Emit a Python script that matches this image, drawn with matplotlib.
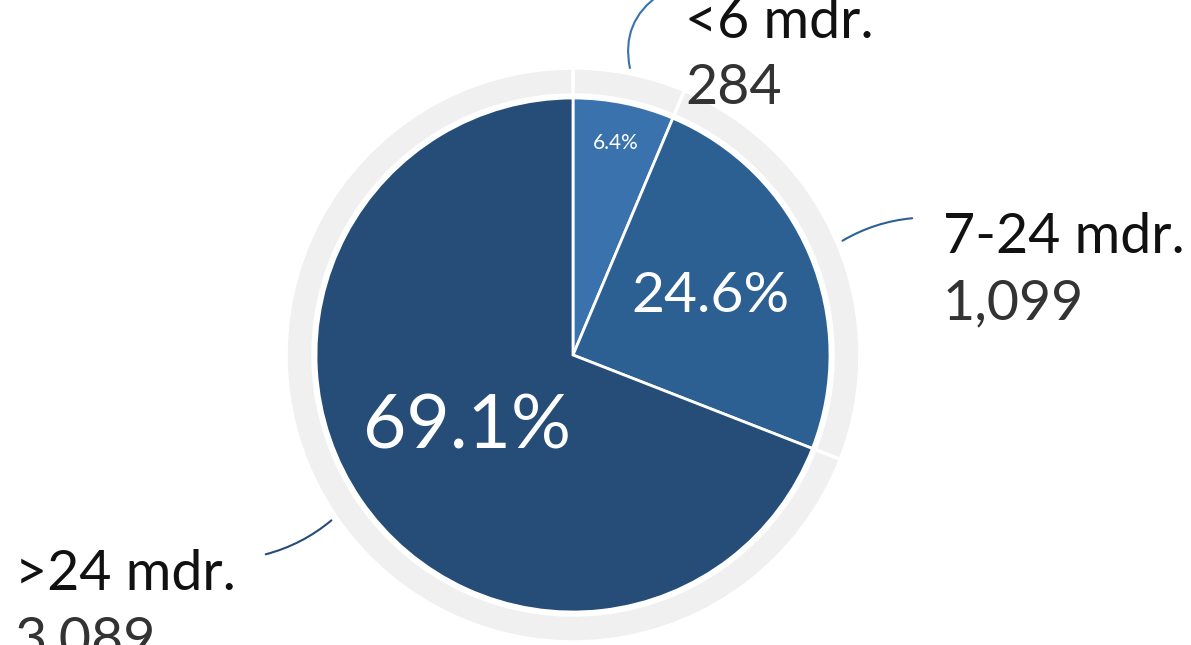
import numpy as np
import matplotlib.pyplot as plt

# datos
categorias = ["<6 mdr.", "7-24 mdr.", ">24 mdr."]
valores = [284, 1099, 3089]
porcentajes = ["6.4%", "24.6%", "69.1%"]
colores = ["#3a72ad", "#2d6092", "#264d78"]

fig = plt.figure(figsize=(11.91, 6.45), dpi=100)
ax = fig.add_axes([0, 0, 1, 1])

centro = (573, 290)
r_pie = 257
r_aro = 287

# aro gris exterior
ax.pie(valores, center=centro, radius=r_aro, startangle=90, counterclock=False,
       colors=["#f0f0f0"] * 3,
       wedgeprops=dict(width=27, edgecolor="white", linewidth=2.5))
# pie principal
ax.pie(valores, center=centro, radius=r_pie, startangle=90, counterclock=False,
       colors=colores, wedgeprops=dict(edgecolor="white", linewidth=2))

ax.set_xlim(0, 1191)
ax.set_ylim(0, 645)
ax.set_aspect("equal")
ax.axis("off")

fuente = ["Lato", "DejaVu Sans"]
fuente_pct = ["DejaVu Sans Condensed", "Lato", "DejaVu Sans"]

# angulos medios
total = sum(valores)
acum = np.cumsum([0] + valores)
medios = [90 - 360 * (acum[i] + valores[i] / 2) / total for i in range(len(valores))]

# porcentajes dentro del pie
dist_pct = [0.84, 0.58, 0.50]
tam_pct = [15, 41, 54]
for i in range(len(valores)):
    a = np.deg2rad(medios[i])
    x = centro[0] + dist_pct[i] * r_pie * np.cos(a)
    y = centro[1] + dist_pct[i] * r_pie * np.sin(a)
    ax.text(x, y, porcentajes[i], color="white", fontsize=tam_pct[i],
            ha="center", va="center", family=fuente_pct)

# etiquetas con lineas guia
pos_texto = [(685, 607), (943, 392), (15, 55)]
fin_linea = [(662, 652), (915, 427), (263, 90)]
curvas = [-0.35, -0.12, -0.12]
for i in range(len(valores)):
    a = np.deg2rad(medios[i])
    x0 = centro[0] + 290 * np.cos(a)
    y0 = centro[1] + 290 * np.sin(a)
    ax.annotate("", xy=fin_linea[i], xytext=(x0, y0), annotation_clip=False,
                arrowprops=dict(arrowstyle="-", color=colores[i], lw=1.5,
                                connectionstyle=f"arc3,rad={curvas[i]}"))
    tx, ty = pos_texto[i]
    ax.text(tx, ty, categorias[i], fontsize=40, color="#111111",
            ha="left", va="baseline", family=fuente)
    ax.text(tx, ty - 66, f"{valores[i]:,}", fontsize=40, color="#333333",
            ha="left", va="baseline", family=fuente)

plt.savefig("out.png", dpi=100)
